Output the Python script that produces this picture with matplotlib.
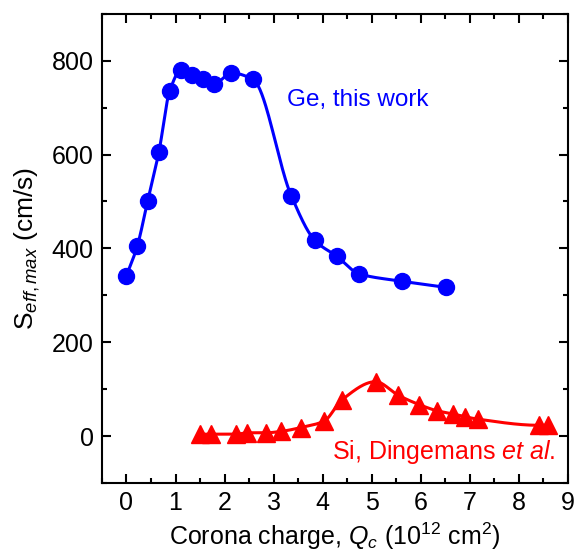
import matplotlib
matplotlib.use("Agg")
import matplotlib.pyplot as plt
import numpy as np
from matplotlib.ticker import MultipleLocator

plt.rcParams['font.family'] = ['Liberation Sans', 'DejaVu Sans']
plt.rcParams['mathtext.fontset'] = 'custom'
plt.rcParams['mathtext.rm'] = 'Liberation Sans'
plt.rcParams['mathtext.it'] = 'Liberation Sans:italic'
plt.rcParams['mathtext.bf'] = 'Liberation Sans:bold'

# Ge, this work
ge_q = [0.0, 0.22, 0.43, 0.66, 0.88, 1.12, 1.34, 1.57, 1.78, 2.14, 2.58,
        3.36, 3.84, 4.29, 4.74, 5.62, 6.51]
ge_s = [342, 405, 500, 605, 735, 781, 770, 761, 750, 774, 760,
        512, 417, 383, 346, 330, 317]

# Si, Dingemans et al.
si_q = [1.49, 1.72, 2.24, 2.46, 2.84, 3.15, 3.55, 4.03, 4.39, 5.08, 5.54,
        5.97, 6.33, 6.66, 6.91, 7.17, 8.41, 8.59]
si_s = [4, 4, 4, 7, 7, 10, 18, 32, 77, 116, 87,
        67, 54, 47, 41, 36, 23, 23]


def smooth_line(x, y, n=40):
    # monotone cubic (Fritsch-Carlson) through the points, only for the guide line
    x = np.asarray(x, float)
    y = np.asarray(y, float)
    h = np.diff(x)
    d = np.diff(y) / h
    m = np.zeros_like(y)
    m[0], m[-1] = d[0], d[-1]
    for i in range(1, len(x) - 1):
        if d[i - 1] * d[i] > 0:
            w1 = 2 * h[i] + h[i - 1]
            w2 = h[i] + 2 * h[i - 1]
            m[i] = (w1 + w2) / (w1 / d[i - 1] + w2 / d[i])
    xs, ys = [], []
    t = np.linspace(0, 1, n)
    for i in range(len(x) - 1):
        h00 = 2 * t**3 - 3 * t**2 + 1
        h10 = t**3 - 2 * t**2 + t
        h01 = -2 * t**3 + 3 * t**2
        h11 = t**3 - t**2
        xs.append(x[i] + t * h[i])
        ys.append(h00 * y[i] + h10 * h[i] * m[i] + h01 * y[i + 1] + h11 * h[i] * m[i + 1])
    return np.concatenate(xs), np.concatenate(ys)


fig = plt.figure(figsize=(5.76, 5.52), dpi=100)
ax = fig.add_axes([0.177, 0.125, 0.809, 0.85])

blue = '#0000ff'
red = '#ff0000'

gx, gy = smooth_line(ge_q, ge_s)
ax.plot(gx, gy, color=blue, lw=2.2)
ax.plot(ge_q, ge_s, 'o', color=blue, ms=11.5)

sx, sy = smooth_line(si_q, si_s)
ax.plot(sx, sy, color=red, lw=2.2)
ax.plot(si_q, si_s, '^', color=red, ms=12.5)

ax.text(3.27, 717, 'Ge, this work', color=blue, fontsize=17.5, ha='left', va='center')
ax.text(8.75, -34, r'Si, Dingemans $\mathit{et\ al.}$', color=red, fontsize=18,
        ha='right', va='center')

ax.set_xlim(-0.5, 9)
ax.set_ylim(-100, 900)
ax.xaxis.set_major_locator(MultipleLocator(1))
ax.xaxis.set_minor_locator(MultipleLocator(0.5))
ax.yaxis.set_major_locator(MultipleLocator(200))
ax.yaxis.set_minor_locator(MultipleLocator(100))
ax.tick_params(which='both', direction='in', top=True, right=True, width=1.5,
               labelsize=18, pad=6)
ax.tick_params(which='major', length=6.2)
ax.tick_params(which='minor', length=3.4)
for sp in ax.spines.values():
    sp.set_linewidth(1.5)

ax.set_xlabel(r'Corona charge, $Q_c$ (10$^{12}$ cm$^2$)', fontsize=18, labelpad=4)
ax.set_ylabel(r'S$_{\mathit{eff,max}}$ (cm/s)', fontsize=19, labelpad=7)

fig.savefig('out.png', dpi=100)
